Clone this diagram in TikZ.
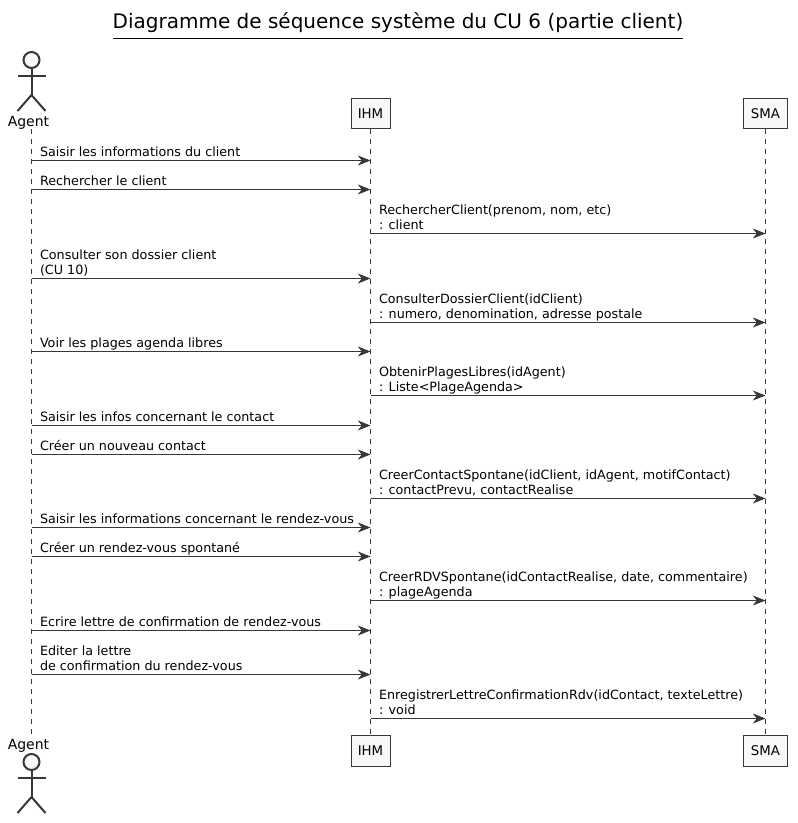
\documentclass[tikz,border=0pt]{standalone}
\usepackage{fontspec}
\setmainfont{DejaVu Sans}
\usetikzlibrary{arrows.meta}

\definecolor{umlline}{HTML}{383838}
\definecolor{umlfill}{HTML}{F8F8F8}

\tikzset{
  lifeline/.style={umlline,line width=0.75pt,dash pattern=on 3.75pt off 3.75pt},
  msg/.style={umlline,line width=0.75pt,-{Stealth[length=9.5pt,width=7.5pt,inset=3pt]}},
  msglabel/.style={anchor=south west,inner sep=0pt,xshift=6pt,yshift=-0.8pt,align=left,black,font=\fontsize{9.55}{11.4}\selectfont},
  partbox/.style={draw=umlline,fill=umlfill,line width=0.75pt,minimum width=29.25pt,minimum height=22.9pt,inner sep=0pt,text=black,font=\fontsize{10}{11.4}\selectfont},
  smabox/.style={partbox,minimum width=33pt},
  actorname/.style={inner sep=0pt,text=black,font=\fontsize{10.5}{12}\selectfont},
  stick/.style={draw=umlline,line width=1.5pt}
}

\begin{document}
\begin{tikzpicture}[x=0.75pt,y=-0.75pt]
\useasboundingbox (0,0) rectangle (798,823);

% titre
\node[inner sep=0pt,font=\fontsize{15}{18}\selectfont] (titre) at (398,23) {Diagramme de séquence système du CU 6 (partie client)};
\coordinate (titreA) at (113,38.5);
\coordinate (titreB) at (683,38.5);
\draw[black,line width=0.75pt] (titreA) -- (titreB);

% participants
\node[partbox] (ihmTop) at (370.5,113.5) {IHM};
\node[partbox] (ihmBot) at (370.5,751) {IHM};
\node[smabox] (smaTop) at (765.5,113.5) {SMA};
\node[smabox] (smaBot) at (765.5,751) {SMA};
\node[actorname] (agentTop) at (28.5,122.5) {Agent};
\node[actorname] (agentBot) at (28.5,745.5) {Agent};

\coordinate (agentA) at (31.5,129);
\coordinate (agentB) at (31.5,735);
\draw[lifeline] (agentA) -- (agentB);
\draw[lifeline] (ihmTop) -- (ihmBot);
\draw[lifeline] (smaTop) -- (smaBot);

% acteurs
\foreach \y in {60,762}
{
   \draw[stick,fill=umlfill] (31.5,\y) circle (8);
   \draw[stick] (31.5,\y+8) -- (31.5,\y+35);
   \draw[stick] (17.5,\y+16) -- (45.5,\y+16);
   \draw[stick] (17.5,\y+51) -- (31.5,\y+35) -- (45.5,\y+51);
}

% Agent vers IHM
\foreach \y/\txt in {160/{Saisir les informations du client},
                     189/{Rechercher le client},
                     278/{Consulter son dossier client\\(CU 10)},
                     351/{Voir les plages agenda libres},
                     425/{Saisir les infos concernant le contact},
                     454/{Créer un nouveau contact},
                     527/{Saisir les informations concernant le rendez-vous},
                     556/{Créer un rendez-vous spontané},
                     630/{Ecrire lettre de confirmation de rendez-vous},
                     674/{Editer la lettre\\de confirmation du rendez-vous}}
{
   \coordinate (a\y) at (31.5,\y+0.5);
   \coordinate (i\y) at (370.5,\y+0.5);
   \draw[msg] (a\y) -- (i\y) node[pos=0,msglabel] (m\y) {\strut\txt\strut};
}

% IHM vers SMA
\foreach \y/\txt in {233/{RechercherClient(prenom, nom, etc)\\: client},
                     322/{ConsulterDossierClient(idClient)\\: numero, denomination, adresse postale},
                     395/{ObtenirPlagesLibres(idAgent)\\: Liste<PlageAgenda>},
                     498/{CreerContactSpontane(idClient, idAgent, motifContact)\\: contactPrevu, contactRealise},
                     600/{CreerRDVSpontane(idContactRealise, date, commentaire)\\: plageAgenda},
                     718/{EnregistrerLettreConfirmationRdv(idContact, texteLettre)\\: void}}
{
   \coordinate (i\y) at (370.5,\y+0.5);
   \coordinate (s\y) at (765.5,\y+0.5);
   \draw[msg] (i\y) -- (s\y) node[pos=0,msglabel] (m\y) {\strut\txt\strut};
}
\end{tikzpicture}
\end{document}
